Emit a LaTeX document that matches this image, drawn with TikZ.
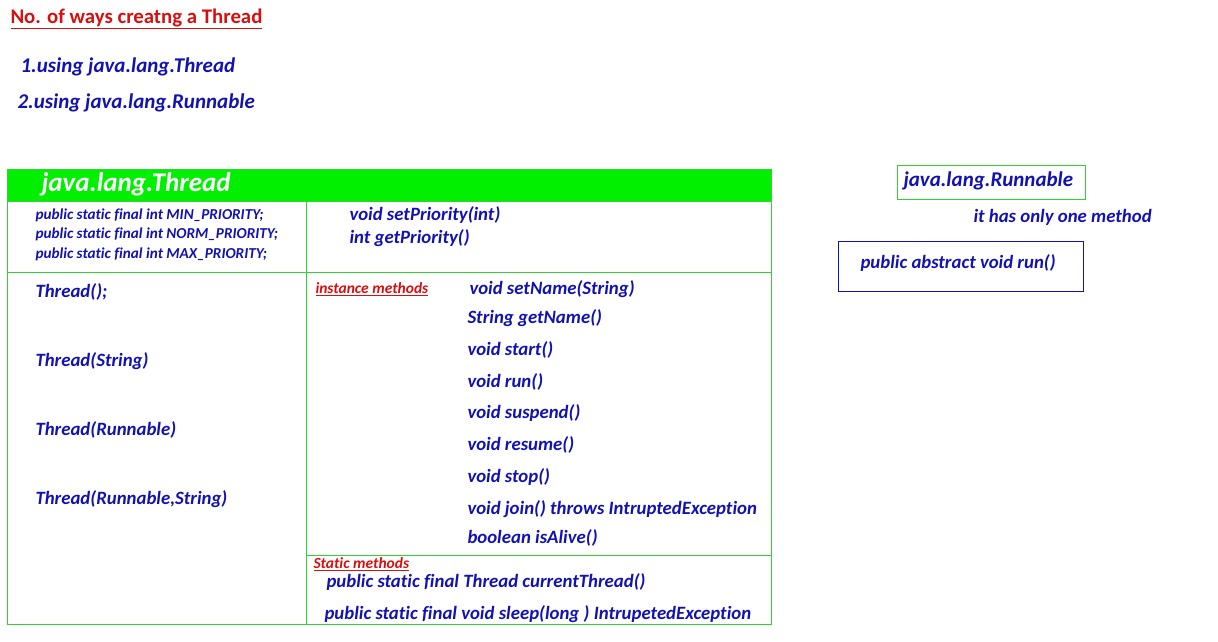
\documentclass[tikz,border=0pt]{standalone}
\usepackage{fontspec}
\setmainfont[Ligatures=NoCommon]{Carlito}
\definecolor{jblue}{RGB}{18,18,178}
\definecolor{jgreen}{RGB}{0,240,0}
\definecolor{jline}{RGB}{50,210,50}
\definecolor{jred}{RGB}{214,16,16}
\tikzset{
  txt/.style={anchor=west,inner sep=0pt,text=jblue,font=\bfseries\itshape\fontsize{18.8}{21}\selectfont},
  small/.style={txt,font=\bfseries\itshape\fontsize{15.2}{18}\selectfont},
  head/.style={txt,text=jred,font=\bfseries\fontsize{20.8}{24}\selectfont},
  tag/.style={txt,text=jred,font=\bfseries\itshape\fontsize{15.5}{18}\selectfont}
}
\begin{document}
\begin{tikzpicture}[x=1pt,y=-1pt,line width=1pt]
        \useasboundingbox (0,0) rectangle (1218,642);
        \node[head] (title) at (10,19) {\underline{No. of ways creatng a Thread}};
        \node[txt,font=\bfseries\itshape\fontsize{21}{24}\selectfont] (way1) at (20,67) {1.using java.lang.Thread};
        \node[txt,font=\bfseries\itshape\fontsize{21}{24}\selectfont] (way2) at (17,103) {2.using java.lang.Runnable};
        % the Thread class
        \fill[jgreen] (7,169) rectangle (771,201);
        \draw[jline] (7,169) rectangle (771,624);
        \draw[jline] (7,201) -- (771,201);
        \draw[jline] (7,272) -- (771,272);
        \draw[jline] (306,201) -- (306,624);
        \draw[jline] (306,555) -- (771,555);
        \node[txt,text=white,font=\bfseries\itshape\fontsize{27}{30}\selectfont] (thread) at (41,184) {java.lang.Thread};
        \foreach \y/\c [count=\i] in {215/MIN,234/NORM,254/MAX} { \node[small] (const\i) at (35,\y) {public static final int \c\_PRIORITY;}; }
        \node[txt] (setp) at (349,215) {void setPriority(int)};
        \node[txt] (getp) at (349,238) {int getPriority()};
        \foreach \y/\c [count=\i] in {292/{Thread();},361/{Thread(String)},430/{Thread(Runnable)},499/{Thread(Runnable,String)}} { \node[txt] (ctor\i) at (35,\y) {\c}; }
        \node[tag] (inst) at (315,289) {\underline{instance methods}};
        \node[txt] (m1) at (469,289) {void setName(String)};
        \foreach \y/\c [count=\i from 2] in {318/{String getName()},350/{void start()},382/{void run()},413/{void suspend()},445/{void resume()},477/{void stop()},509/{void join() throws IntruptedException},538/{boolean isAlive()}} { \node[txt] (m\i) at (467,\y) {\c}; }
        \node[tag] (stat) at (313,564) {\underline{Static methods}};
        \node[txt] (s1) at (326,582) {public static final Thread currentThread()};
        \node[txt] (s2) at (324,614) {public static final void sleep(long ) IntrupetedException};
        % the Runnable interface
        \draw[jline] (897,165) rectangle (1085,199);
        \node[txt,font=\bfseries\itshape\fontsize{21}{24}\selectfont] (runnable) at (903,181) {java.lang.Runnable};
        \node[txt] (only) at (973,217) {it has only one method};
        \draw[jblue] (838,241) rectangle (1083,291);
        \node[txt] (run) at (860,263) {public abstract void run()};
      \end{tikzpicture}
\end{document}
